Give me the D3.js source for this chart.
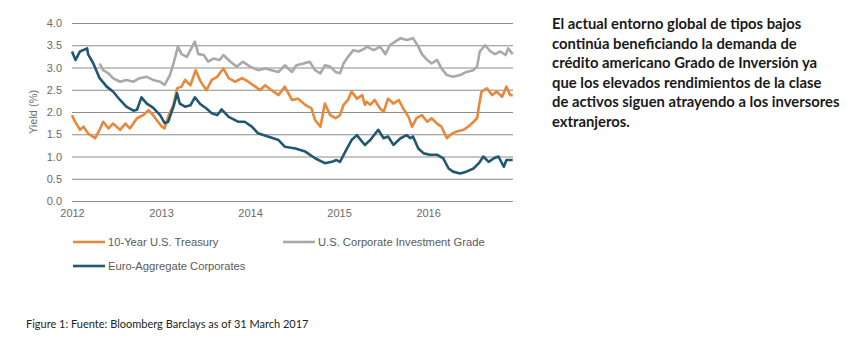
<!DOCTYPE html>
<html>
<head>
<meta charset="utf-8">
<script src="https://cdn.jsdelivr.net/npm/d3@7"></script>
<style>
  body { margin: 0; background: #fff; }
  svg { display: block; }
  .tick text { font-family: "Liberation Sans", Arial, sans-serif; font-size: 11px; fill: #6b6b6b; }
  .legend text { font-family: "Liberation Sans", Arial, sans-serif; font-size: 11.2px; fill: #5a5a5a; }
  .side { font-family: Lato, "Open Sans", sans-serif; font-weight: bold; font-size: 14.8px; fill: #1a1a1a; }
  .caption { font-family: Lato, "Open Sans", sans-serif; font-size: 11px; fill: #222; }
</style>
</head>
<body>
<svg width="847" height="353"></svg>
<script>
// données (année décimale, rendement %)
const years = [2012, 2013, 2014, 2015, 2016];
const yTicks = [0, 0.5, 1, 1.5, 2, 2.5, 3, 3.5, 4];

const treasury = [
  [2012.00, 1.93], [2012.03, 1.80], [2012.09, 1.60], [2012.13, 1.67], [2012.18, 1.52],
  [2012.26, 1.41], [2012.31, 1.60], [2012.35, 1.78], [2012.41, 1.63], [2012.46, 1.74],
  [2012.54, 1.60], [2012.60, 1.74], [2012.65, 1.63], [2012.73, 1.86], [2012.80, 1.93],
  [2012.86, 2.04], [2012.91, 1.93], [2012.95, 1.82], [2013.01, 1.67], [2013.04, 1.63],
  [2013.08, 1.89], [2013.14, 2.16], [2013.18, 2.53], [2013.23, 2.57], [2013.27, 2.72],
  [2013.33, 2.60], [2013.39, 2.94], [2013.44, 2.70], [2013.51, 2.49], [2013.57, 2.72],
  [2013.63, 2.79], [2013.66, 2.87], [2013.70, 2.98], [2013.76, 2.76], [2013.83, 2.68],
  [2013.91, 2.76], [2013.98, 2.68], [2014.06, 2.57], [2014.11, 2.49], [2014.17, 2.60],
  [2014.24, 2.49], [2014.32, 2.38], [2014.39, 2.57], [2014.47, 2.27], [2014.54, 2.30],
  [2014.62, 2.16], [2014.69, 2.08], [2014.73, 1.82], [2014.79, 1.67], [2014.84, 2.19],
  [2014.90, 1.93], [2014.96, 1.86], [2015.01, 1.93], [2015.05, 2.16], [2015.10, 2.27],
  [2015.14, 2.46], [2015.20, 2.30], [2015.26, 2.38], [2015.29, 2.16], [2015.31, 2.23],
  [2015.35, 2.16], [2015.40, 2.27], [2015.46, 2.08], [2015.50, 2.00], [2015.55, 2.30],
  [2015.61, 2.19], [2015.67, 2.27], [2015.72, 2.08], [2015.78, 1.89], [2015.82, 1.67],
  [2015.87, 1.86], [2015.93, 1.93], [2015.99, 1.78], [2016.04, 1.86], [2016.10, 1.74],
  [2016.15, 1.67], [2016.21, 1.41], [2016.27, 1.52], [2016.32, 1.56], [2016.40, 1.60],
  [2016.45, 1.67], [2016.51, 1.78], [2016.55, 1.86], [2016.57, 2.12], [2016.60, 2.46],
  [2016.66, 2.53], [2016.72, 2.38], [2016.77, 2.46], [2016.83, 2.34], [2016.88, 2.57],
  [2016.92, 2.38], [2016.95, 2.38]
];

const corporate = [
  [2012.31, 3.09], [2012.35, 2.94], [2012.41, 2.87], [2012.46, 2.76], [2012.54, 2.68],
  [2012.61, 2.72], [2012.69, 2.68], [2012.76, 2.76], [2012.84, 2.79], [2012.91, 2.72],
  [2012.99, 2.68], [2013.04, 2.61], [2013.10, 2.83], [2013.14, 3.09], [2013.19, 3.47],
  [2013.23, 3.30], [2013.29, 3.24], [2013.33, 3.39], [2013.38, 3.58], [2013.42, 3.30],
  [2013.48, 3.28], [2013.53, 3.13], [2013.59, 3.20], [2013.66, 3.17], [2013.70, 3.28],
  [2013.78, 3.13], [2013.85, 3.02], [2013.92, 3.13], [2014.00, 3.02], [2014.09, 2.94],
  [2014.17, 2.98], [2014.24, 2.94], [2014.32, 2.90], [2014.39, 3.05], [2014.47, 2.90],
  [2014.52, 3.05], [2014.60, 3.09], [2014.67, 3.13], [2014.73, 2.94], [2014.79, 2.87],
  [2014.84, 3.05], [2014.90, 3.02], [2014.96, 2.90], [2015.01, 2.87], [2015.05, 3.09],
  [2015.10, 3.24], [2015.16, 3.39], [2015.22, 3.36], [2015.29, 3.43], [2015.31, 3.47],
  [2015.39, 3.39], [2015.46, 3.47], [2015.52, 3.30], [2015.57, 3.50], [2015.63, 3.58],
  [2015.69, 3.66], [2015.76, 3.62], [2015.83, 3.66], [2015.89, 3.47], [2015.93, 3.30],
  [2015.99, 3.17], [2016.04, 3.09], [2016.10, 3.17], [2016.15, 2.98], [2016.21, 2.83],
  [2016.28, 2.79], [2016.36, 2.83], [2016.43, 2.90], [2016.51, 2.94], [2016.55, 3.02],
  [2016.58, 3.36], [2016.64, 3.50], [2016.70, 3.36], [2016.75, 3.30], [2016.81, 3.36],
  [2016.87, 3.28], [2016.90, 3.43], [2016.95, 3.30]
];

const euro = [
  [2012.00, 3.36], [2012.04, 3.17], [2012.09, 3.36], [2012.17, 3.43], [2012.18, 3.30],
  [2012.24, 3.09], [2012.31, 2.76], [2012.39, 2.57], [2012.46, 2.46], [2012.54, 2.27],
  [2012.61, 2.12], [2012.69, 2.03], [2012.73, 2.05], [2012.78, 2.33], [2012.84, 2.19],
  [2012.91, 2.10], [2012.99, 1.93], [2013.04, 1.75], [2013.08, 1.78], [2013.14, 2.12],
  [2013.18, 2.42], [2013.21, 2.19], [2013.27, 2.12], [2013.33, 2.15], [2013.38, 2.33],
  [2013.44, 2.18], [2013.51, 2.08], [2013.57, 1.97], [2013.63, 1.93], [2013.66, 2.00],
  [2013.68, 2.06], [2013.76, 1.89], [2013.87, 1.78], [2013.94, 1.78], [2014.02, 1.67],
  [2014.09, 1.52], [2014.20, 1.45], [2014.32, 1.37], [2014.39, 1.22], [2014.51, 1.18],
  [2014.62, 1.11], [2014.73, 0.96], [2014.84, 0.85], [2014.92, 0.88], [2014.97, 0.92],
  [2015.01, 0.88], [2015.07, 1.11], [2015.14, 1.37], [2015.20, 1.48], [2015.26, 1.33],
  [2015.29, 1.26], [2015.35, 1.37], [2015.44, 1.60], [2015.50, 1.41], [2015.55, 1.45],
  [2015.61, 1.26], [2015.69, 1.41], [2015.76, 1.48], [2015.80, 1.41], [2015.83, 1.45],
  [2015.89, 1.18], [2015.95, 1.07], [2016.02, 1.04], [2016.10, 1.04], [2016.17, 0.96],
  [2016.23, 0.73], [2016.28, 0.66], [2016.36, 0.62], [2016.43, 0.66], [2016.51, 0.73],
  [2016.57, 0.85], [2016.62, 1.00], [2016.68, 0.88], [2016.74, 0.96], [2016.79, 1.00],
  [2016.85, 0.77], [2016.88, 0.92], [2016.95, 0.92]
];

const seriesNames = ['10-Year U.S. Treasury', 'U.S. Corporate Investment Grade', 'Euro-Aggregate Corporates'];
const seriesColors = ['#e8883a', '#a9a9a9', '#1f5870'];

const sideText = [
  'El actual entorno global de tipos bajos',
  'continúa beneficiando la demanda de',
  'crédito americano Grado de Inversión ya',
  'que los elevados rendimientos de la clase',
  'de activos siguen atrayendo a los inversores',
  'extranjeros.'
];
const caption = 'Figure 1: Fuente: Bloomberg Barclays as of 31 March 2017';

// dessin
const svg = d3.select('svg');
const plotLeft = 72, plotRight = 513, plotTop = 23, plotBottom = 201;

const x = d3.scaleLinear().domain([2012, 2016.95]).range([plotLeft, 512.7]);
const y = d3.scaleLinear().domain([0, 4]).range([plotBottom, plotTop]);

// grille + axe Y
const yAxis = svg.append('g')
  .attr('transform', `translate(${plotLeft},0)`)
  .call(d3.axisLeft(y).tickValues(yTicks).tickFormat(d3.format('.1f')).tickSize(-(plotRight - plotLeft)).tickPadding(10));
yAxis.select('.domain').remove();
yAxis.selectAll('.tick line').attr('stroke', '#8c8c8c').attr('stroke-width', 1);

// axe X
const xAxis = svg.append('g')
  .attr('transform', `translate(0,${plotBottom})`)
  .call(d3.axisBottom(x).tickValues(years).tickFormat(d3.format('d')).tickSize(0).tickPadding(8));
xAxis.select('.domain').remove();

svg.append('text')
  .attr('transform', `translate(37,${(plotTop + plotBottom) / 2}) rotate(-90)`)
  .attr('text-anchor', 'middle')
  .style('font-family', '"Liberation Sans", Arial, sans-serif')
  .style('font-size', '11px')
  .style('fill', '#6b6b6b')
  .text('Yield (%)');

const line = d3.line().x(d => x(d[0])).y(d => y(d[1]));
[corporate, treasury, euro].forEach((data, i) => {
  const idx = [1, 0, 2][i];
  svg.append('path')
    .datum(data)
    .attr('d', line)
    .attr('fill', 'none')
    .attr('stroke', seriesColors[idx])
    .attr('stroke-width', 2.6)
    .attr('stroke-linejoin', 'round');
});

// légende
const legendPos = [[73, 242], [283, 242], [73, 266]];
const legend = svg.append('g').attr('class', 'legend');
seriesNames.forEach((name, i) => {
  const [lx, ly] = legendPos[i];
  legend.append('line')
    .attr('x1', lx).attr('x2', lx + 32).attr('y1', ly).attr('y2', ly)
    .attr('stroke', seriesColors[i]).attr('stroke-width', 2.6);
  legend.append('text')
    .attr('x', lx + 35).attr('y', ly + 4)
    .text(name);
});

// texte à droite
svg.append('g').selectAll('text')
  .data(sideText)
  .join('text')
  .attr('class', 'side')
  .attr('x', 552)
  .attr('y', (d, i) => 29 + i * 19.6)
  .text(d => d);

svg.append('text')
  .attr('class', 'caption')
  .attr('x', 26)
  .attr('y', 328)
  .text(caption);
</script>
</body>
</html>
